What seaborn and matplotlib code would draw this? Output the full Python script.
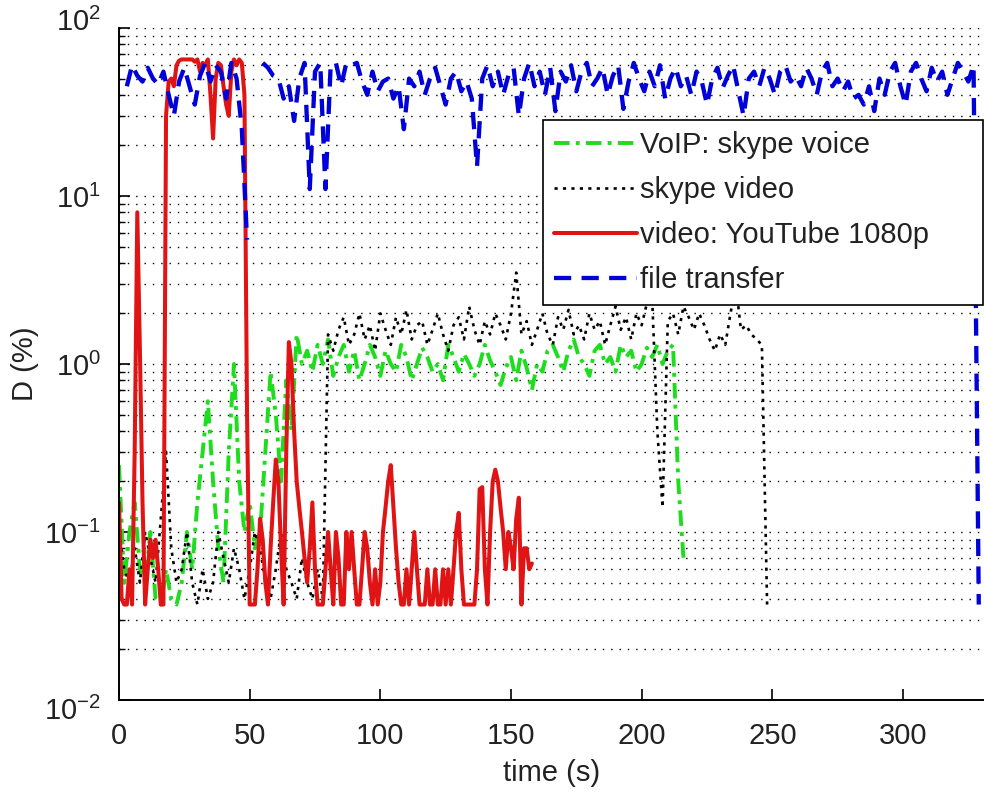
import numpy as np
import pandas as pd
import matplotlib
matplotlib.use("Agg")
import matplotlib.pyplot as plt
import matplotlib.transforms as mtransforms
from matplotlib.ticker import LogLocator, LogFormatterMathtext, NullFormatter
import seaborn as sns

# D (%) per series, regular time sampling (start, step in seconds)
VOIP_START, VOIP_STEP = 0, 2
VOIP = [0.25, 0.05, 0.1, 0.15, 0.06, 0.05, 0.1, 0.04, 0.037, 0.06,
        0.04, 0.037, 0.05, 0.1, 0.06, 0.15, 0.3, 0.6, 0.2, 0.08,
        0.05, 0.3, 1.0, 0.2, 0.1, 0.15, 0.08, 0.1, 0.3, 0.9,
        0.5, 0.2, 0.8, 0.4, 1.5, 1.0, 1.2, 0.9, 1.3, 1.0,
        1.4, 0.85, 1.1, 1.3, 0.9, 1.2, 0.8, 1.0, 1.3, 1.1,
        0.85, 1.2, 1.0, 0.9, 1.3, 1.1, 0.8, 1.0, 1.25, 1.1,
        0.9, 1.0, 0.8, 1.3, 1.1, 0.9, 1.15, 1.0, 0.85, 1.0,
        1.3, 1.05, 0.9, 0.75, 0.95, 1.1, 0.8, 1.2, 0.95, 0.7,
        1.0, 0.9, 1.2, 1.3, 1.1, 0.9, 1.2, 1.4, 1.1, 1.0,
        0.85, 1.2, 1.3, 1.0, 1.1, 0.9, 1.3, 1.1, 1.2, 0.9,
        1.0, 1.25, 1.1, 1.3, 1.0, 1.2, 1.3, 0.2, 0.07]

SKYPE_VIDEO_START, SKYPE_VIDEO_STEP = 0, 2
SKYPE_VIDEO = [0.1, 0.06, 0.05, 0.08, 0.05, 0.1, 0.07, 0.05, 0.12, 0.3,
               0.08, 0.05, 0.06, 0.1, 0.05, 0.037, 0.06, 0.04, 0.05, 0.1,
               0.07, 0.05, 0.08, 0.06, 0.04, 0.06, 0.1, 0.08, 0.05, 0.04,
               0.06, 0.1, 0.06, 0.05, 0.04, 0.07, 0.05, 0.04, 0.06, 0.04,
               1.5, 1.2, 1.6, 1.9, 1.3, 1.5, 2.0, 1.4, 1.7, 1.2,
               2.0, 1.6, 1.3, 1.9, 1.5, 2.1, 1.4, 1.7, 1.8, 1.3,
               1.6, 2.0, 1.5, 1.2, 1.7, 1.9, 1.4, 2.2, 1.6, 1.3,
               1.8, 1.5, 2.0, 1.7, 1.4, 2.0, 3.5, 1.5, 1.8, 1.3,
               1.6, 2.0, 1.5, 1.3, 1.9, 1.6, 2.1, 1.5, 1.7, 1.4,
               2.0, 1.6, 1.8, 1.3, 1.7, 2.2, 1.6, 1.9, 1.4, 2.0,
               1.7, 2.3, 2.5, 0.4, 0.14, 1.8, 2.0, 1.5, 2.2, 1.9,
               1.6, 2.0, 1.7, 1.4, 1.2, 1.5, 1.3, 2.0, 3.0, 1.6,
               1.7, 1.5, 1.4, 1.3, 0.037]

YOUTUBE_START, YOUTUBE_STEP = 0, 1
YOUTUBE = [0.15, 0.04, 0.037, 0.037, 0.06, 0.037, 0.3, 8.0, 1.2, 0.15,
           0.037, 0.06, 0.09, 0.07, 0.09, 0.06, 0.037, 0.037, 30, 48,
           50, 45, 60, 64, 65, 65, 65, 65, 65, 63,
           65, 55, 62, 60, 65, 40, 22, 50, 62, 60,
           45, 35, 30, 55, 65, 60, 65, 62, 40, 0.5,
           0.037, 0.037, 0.037, 0.06, 0.12, 0.09, 0.05, 0.037, 0.08, 0.15,
           0.27, 0.2, 0.08, 0.037, 0.3, 1.35, 1.0, 0.4, 0.2, 0.14,
           0.1, 0.07, 0.05, 0.08, 0.15, 0.06, 0.037, 0.037, 0.037, 0.06,
           0.1, 0.06, 0.037, 0.1, 0.07, 0.037, 0.037, 0.1, 0.06, 0.1,
           0.06, 0.037, 0.037, 0.06, 0.1, 0.08, 0.05, 0.037, 0.06, 0.037,
           0.05, 0.1, 0.14, 0.2, 0.25, 0.14, 0.08, 0.05, 0.037, 0.037,
           0.06, 0.037, 0.06, 0.1, 0.06, 0.037, 0.037, 0.037, 0.06, 0.037,
           0.037, 0.06, 0.037, 0.037, 0.06, 0.037, 0.06, 0.037, 0.06, 0.1,
           0.13, 0.06, 0.037, 0.037, 0.037, 0.037, 0.037, 0.06, 0.18, 0.185,
           0.06, 0.037, 0.1, 0.2, 0.235, 0.2, 0.14, 0.1, 0.06, 0.1,
           0.08, 0.06, 0.12, 0.16, 0.037, 0.08, 0.08, 0.06, 0.065]

# nan = no transfer (zero, not drawn on log axis)
FILE_START, FILE_STEP = 3, 2
FILE = [45, 60, 52, 48, 58, 50, 46, 55, 40, 30,
        48, 58, 45, 35, 52, 62, 48, 60, 55, 38,
        62, 50, 25, 5.5, np.nan, np.nan, 62, 58, 52, 50,
        38, 45, 28, 50, 62, 11, 55, 62, 11, 60,
        62, 45, 62, 60, 62, 48, 40, 55, 42, 48,
        50, 38, 45, 25, 50, 45, 55, 40, 50, 58,
        45, 35, 50, 55, 42, 48, 38, 15, 50, 60,
        45, 55, 40, 52, 58, 30, 50, 62, 45, 55,
        40, 58, 32, 55, 48, 60, 42, 55, 62, 45,
        50, 58, 40, 52, 60, 33, 48, 62, 50, 42,
        55, 45, 60, 38, 50, 58, 45, 52, 40, 55,
        48, 35, 50, 58, 44, 52, 60, 42, 30, 50,
        55, 45, 58, 50, 40, 55, 60, 48, 52, 45,
        58, 50, 40, 55, 62, 45, 50, 42, 48, 38,
        40, 35, 45, 32, 50, 40, 55, 62, 45, 35,
        55, 62, 50, 42, 58, 48, 55, 40, 50, 62,
        55, 48, 60, 0.037]

LABELS = ["VoIP: skype voice", "skype video", "video: YouTube 1080p", "file transfer"]
COLORS = ["#1edc1e", "#000000", "#e01414", "#0000d8"]
STYLES = [(0, (4, 1.6, 1, 1.6)), (0, (1.2, 2.0)), "-", (0, (4, 2.4))]
WIDTHS = [2.8, 1.9, 2.9, 3.1]

series = [(VOIP_START, VOIP_STEP, VOIP),
          (SKYPE_VIDEO_START, SKYPE_VIDEO_STEP, SKYPE_VIDEO),
          (YOUTUBE_START, YOUTUBE_STEP, YOUTUBE),
          (FILE_START, FILE_STEP, FILE)]

frames = []
for label, (t0, step, vals) in zip(LABELS, series):
    v = np.array(vals, dtype=float)
    d = pd.DataFrame({"t": t0 + step * np.arange(len(v)), "D": v, "series": label})
    d["seg"] = np.isnan(v).cumsum()
    frames.append(d.dropna())
df = pd.concat(frames, ignore_index=True)

sns.set_theme(style="white")
plt.rcParams["font.family"] = ["Liberation Sans", "DejaVu Sans"]
plt.rcParams["mathtext.fontset"] = "custom"
plt.rcParams["mathtext.rm"] = "Liberation Sans"

fig = plt.figure(figsize=(9.84, 7.98), dpi=100)
ax = fig.add_axes([119 / 984, 98 / 798, 865 / 984, 672 / 798])
ax.set_yscale("log")

handles = []
for label, color, ls, lw in zip(LABELS, COLORS, STYLES, WIDTHS):
    sub = df[df["series"] == label]
    n0 = len(ax.lines)
    sns.lineplot(data=sub, x="t", y="D", units="seg", estimator=None,
                 color=color, linestyle=ls, linewidth=lw, legend=False, ax=ax)
    handles.append(ax.lines[n0])

ax.set_xlim(0, 331)
ax.set_ylim(1e-2, 1e2)
ax.set_xticks([0, 50, 100, 150, 200, 250, 300])
ax.yaxis.set_major_locator(LogLocator(base=10))
ax.yaxis.set_major_formatter(LogFormatterMathtext())
ax.yaxis.set_minor_locator(LogLocator(base=10, subs=np.arange(2, 10)))
ax.yaxis.set_minor_formatter(NullFormatter())

ax.yaxis.grid(True, which="both", color="black", linestyle=(0, (1, 5)), linewidth=1.0)
ax.xaxis.grid(False)
ax.set_axisbelow(True)

ax.tick_params(axis="both", which="both", direction="in", left=True, bottom=True,
               top=False, right=False, colors="black", labelcolor="#222222",
               labelsize=21)
ax.tick_params(axis="x", pad=16)
ax.tick_params(axis="y", pad=13)
ax.tick_params(which="major", length=8, width=1.2)
ax.tick_params(which="minor", length=4, width=1.0)

# edge decade labels sit inside the figure, as in the original
fig.canvas.draw()
for tl in ax.get_yticklabels():
    val = tl.get_position()[1]
    if np.isclose(val, 1e2):
        tl.set_transform(tl.get_transform() + mtransforms.ScaledTranslation(0, 6 / 72, fig.dpi_scale_trans))
    elif np.isclose(val, 1e-2):
        tl.set_transform(tl.get_transform() + mtransforms.ScaledTranslation(0, -6 / 72, fig.dpi_scale_trans))

for side in ["top", "right"]:
    ax.spines[side].set_visible(False)
for side in ["left", "bottom"]:
    ax.spines[side].set_color("black")
    ax.spines[side].set_linewidth(1.4)

ax.set_xlabel("time (s)", fontsize=21, color="#222222", labelpad=6)
ax.set_ylabel("D (%)", fontsize=21, color="#222222", labelpad=4)

leg = ax.legend(handles, LABELS, loc="upper left",
                bbox_to_anchor=(0.490, 0.863 - 0.272, 0.509, 0.272), mode="expand",
                borderaxespad=0, fontsize=21, handlelength=2.85, handletextpad=0.1,
                labelspacing=0.58, borderpad=0.38, frameon=True, fancybox=False,
                framealpha=1, edgecolor="black")
leg.get_frame().set_linewidth(1.2)
for txt in leg.get_texts():
    txt.set_color("#222222")

fig.savefig("out.png", dpi=100)
